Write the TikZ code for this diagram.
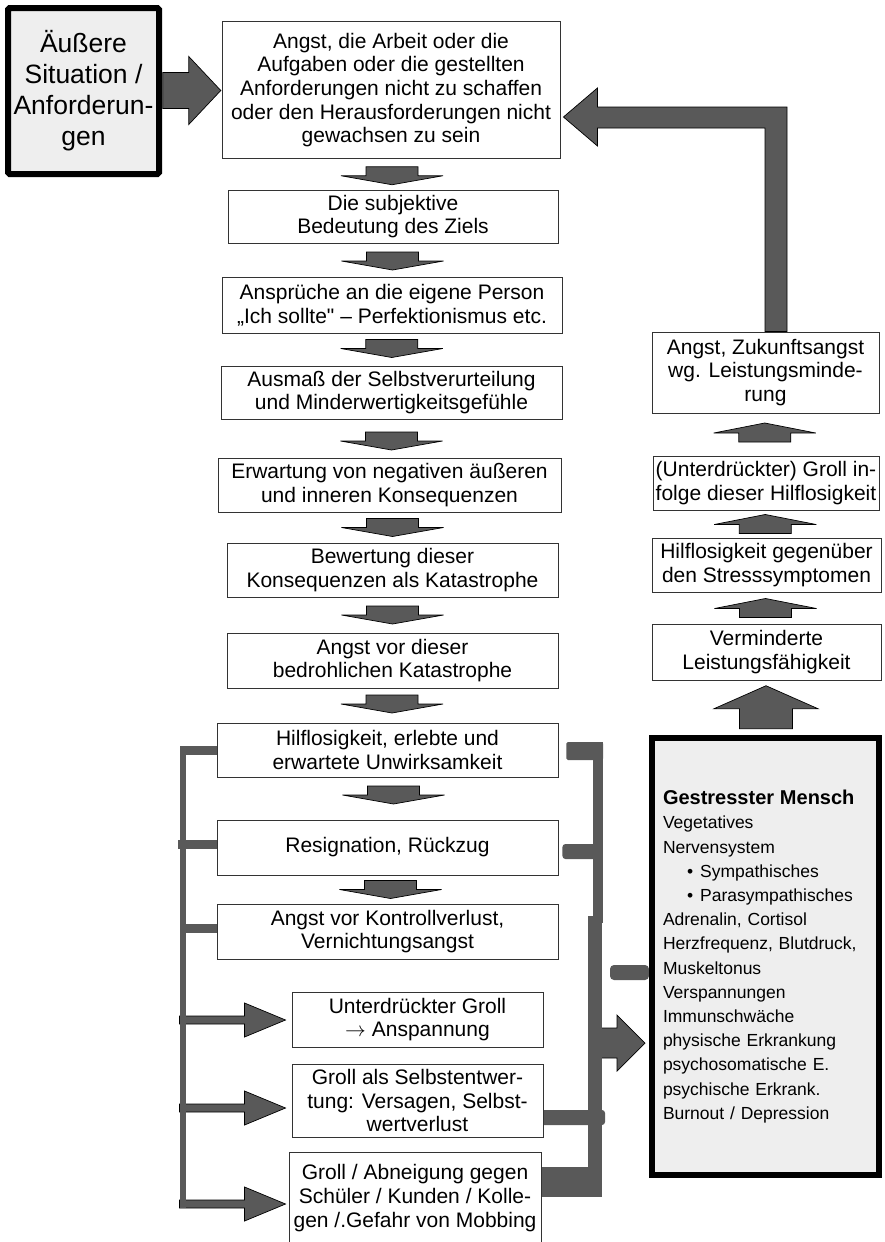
\documentclass[tikz,border=0pt]{standalone}
\usepackage{fontspec}
\setmainfont{Liberation Sans}[Ligatures=TeXOff]
\usetikzlibrary{calc,backgrounds}
\definecolor{ag}{HTML}{595959}
\definecolor{lg}{HTML}{EEEEEE}
\begin{document}
\begin{tikzpicture}[x=1pt,y=-1pt,
  box/.style={draw=black!80, line width=0.9pt, fill=white, align=center, inner sep=0pt,
    font=\fontsize{21}{23.7}\selectfont},
  bigbox/.style={draw=black, line width=6pt, fill=lg, inner sep=0pt, rounded corners=1.5pt},
  blk/.style={fill=ag, draw=black, line width=0.7pt, line join=miter},
  downarr/.pic={\path[blk] (-26,-9) -- (26,-9) -- (26,0) -- (51,0) -- (0,9) -- (-51,0) -- (-26,0) -- cycle;},
  uparr/.pic={\path[blk] (-26,9.5) -- (26,9.5) -- (26,0.5) -- (51,0.5) -- (0,-9.5) -- (-51,0.5) -- (-26,0.5) -- cycle;},
  bigup/.pic={\path[blk] (-26.5,21) -- (26.5,21) -- (26.5,1) -- (52,1) -- (0,-22) -- (-52,1) -- (-26.5,1) -- cycle;},
  rightarr/.pic={\path[blk] (-29,-18) -- (-3,-18) -- (-3,-34) -- (29,0) -- (-3,34) -- (-3,18) -- (-29,18) -- cycle;},
  brarr/.pic={\path[blk] (-106,-4) -- (-41,-4) -- (-41,-17) -- (0,0) -- (-41,17) -- (-41,4) -- (-106,4) -- cycle;},
  garr/.pic={\path[blk] (-48,-15) -- (-28,-15) -- (-28,-28) -- (0,0) -- (-28,28) -- (-28,15) -- (-48,15) -- cycle;}
]
\useasboundingbox (0,0) rectangle (885,1242);

% ---------- nodes ----------
\node[bigbox, minimum width=151pt, minimum height=166pt, align=center,
  font=\fontsize{26.5}{31}\selectfont] (L) at (83.5,91) {Äußere\\Situation /\\Anforderun-\\gen};

\node[box, minimum width=338pt, minimum height=137pt] (top) at (391,90)
  {Angst, die Arbeit oder die\\Aufgaben oder die gestellten\\Anforderungen nicht zu schaffen\\oder den Herausforderungen nicht\\gewachsen zu sein};
\node[box, minimum width=330pt, minimum height=53pt] (b2) at (393,216.5) {Die subjektive\\Bedeutung des Ziels};
\node[box, minimum width=340pt, minimum height=56pt] (b3) at (392,305) {Ansprüche an die eigene Person\\„Ich sollte" – Perfektionismus etc.};
\node[box, minimum width=341pt, minimum height=53pt] (b4) at (391.5,392.5) {Ausmaß der Selbstverurteilung\\und Minderwertigkeitsgefühle};
\node[box, minimum width=343pt, minimum height=54pt] (b5) at (389.5,485) {Erwartung von negativen äußeren\\und inneren Konsequenzen};
\node[box, minimum width=331pt, minimum height=54pt] (b6) at (392.5,570) {Bewertung dieser\\Konsequenzen als Katastrophe};
\node[box, minimum width=331pt, minimum height=55pt] (b7) at (392.5,660.5) {Angst vor dieser\\bedrohlichen Katastrophe};
\node[box, minimum width=341pt, minimum height=54pt] (b8) at (387.5,750) {Hilflosigkeit, erlebte und\\erwartete Unwirksamkeit};
\node[box, minimum width=341pt, minimum height=55pt] (b9) at (387.5,847.5) {Resignation, Rückzug};
\node[box, minimum width=341pt, minimum height=55pt] (b10) at (387.5,931.5) {Angst vor Kontrollverlust,\\Vernichtungsangst};
\node[box, minimum width=251pt, minimum height=55pt] (b11) at (417.5,1019.5) {Unterdrückter Groll\\$\rightarrow$ Anspannung};
\node[box, minimum width=251pt, minimum height=73pt] (b12) at (417.5,1100.5) {Groll als Selbstentwer-\\tung: Versagen, Selbst-\\wertverlust};
\node[box, minimum width=252pt, minimum height=92pt] (b13) at (415,1198) {Groll / Abneigung gegen\\Schüler / Kunden / Kolle-\\gen /.Gefahr von Mobbing};

\node[box, minimum width=227pt, minimum height=81pt] (R1) at (765.5,372.5) {Angst, Zukunftsangst\\wg. Leistungsminde-\\rung};
\node[box, minimum width=226pt, minimum height=54pt] (R2) at (766,483) {(Unterdrückter) Groll in-\\folge dieser Hilflosigkeit};
\node[box, minimum width=229pt, minimum height=54pt] (R3) at (766.5,565) {Hilflosigkeit gegenüber\\den Stresssymptomen};
\node[box, minimum width=229pt, minimum height=56pt] (R4) at (766.5,652) {Verminderte\\Leistungsfähigkeit};

\node[bigbox, rounded corners=0pt, minimum width=227pt, minimum height=437pt, text width=205pt, align=left,
  inner xsep=11pt, font=\fontsize{17.5}{24.2}\selectfont] (G) at (765.5,956.5)
  {{\fontsize{20}{24.2}\selectfont\bfseries Gestresster Mensch}\\
   Vegetatives\\
   Nervensystem\\
   \hspace*{24pt}\textbullet\hspace*{7pt}Sympathisches\\
   \hspace*{24pt}\textbullet\hspace*{7pt}Parasympathisches\\
   Adrenalin, Cortisol\\
   Herzfrequenz, Blutdruck,\\
   Muskeltonus\\
   Verspannungen\\
   Immunschwäche\\
   physische Erkrankung\\
   psychosomatische E.\\
   psychische Erkrank.\\
   Burnout / Depression};

% ---------- connectors (behind the boxes) ----------
\begin{pgfonlayer}{background}
\fill[white] (0,0) rectangle (885,1242);

% main chain
\pic at ($(L.east)!.5!(top.west)$) {rightarr};
\pic at ($(top.south)!.5!(b2.north)+(0,1.5)$) {downarr};
\pic at ($(b2.south)!.5!(b3.north)+(0,1)$) {downarr};
\pic at ($(b3.south)!.5!(b4.north)+(0,-1)$) {downarr};
\pic at ($(b4.south)!.5!(b5.north)+(1,2.5)$) {downarr};
\pic at ($(b5.south)!.5!(b6.north)+(1.5,0)$) {downarr};
\pic at ($(b6.south)!.5!(b7.north)$) {downarr};
\pic at ($(b7.south)!.5!(b8.north)+(2,-1.5)$) {downarr};
\pic at ($(b8.south)!.5!(b9.north)+(6,-3.5)$) {downarr};
\pic at ($(b9.south)!.5!(b10.north)+(3,0)$) {downarr};

% right column
\pic at ($(R1.south)!.5!(R2.north)+(-1,-2)$) {uparr};
\pic at ($(R2.south)!.5!(R3.north)+(-1,0)$) {uparr};
\pic at ($(R3.south)!.5!(R4.north)+(-1,0)$) {uparr};
\pic at ($(R4.south)!.5!(G.north)$) {bigup};

% feedback arrow
\path[blk] ($(R1.north)+(-0.5,0)$) |- ($(top.east)+(37,38)$) -- ++(0,18)
  -- ($(top.east)+(3,27)$) -- ++(34,-29) -- ++(0,19) -| ($(R1.north)+(21.5,0)$) -- cycle;

% left bracket
\pic at ($(b11.west)+(-6,0.5)$) {brarr};
\pic at ($(b12.west)+(-6,7.5)$) {brarr};
\pic at ($(b13.west)+(-3,6)$) {brarr};
\fill[ag] (180,745.5) rectangle (186,1208);
\fill[ag] ($(b8.west)+(-37,-4.5)$) rectangle ($(b8.west)+(0,4.5)$);
\fill[ag] ($(b9.west)+(-39,-7.5)$) rectangle ($(b9.west)+(0,1.5)$);
\fill[ag] ($(b10.west)+(-37,-7.5)$) rectangle ($(b10.west)+(5,1.5)$);

% right bracket
\pic at ($(G.west)+(-4,86.5)$) {garr};
\fill[ag] (593,742) rectangle (603,923);
\fill[ag, rounded corners=1.5pt] ($(b8.east)+(8,-8)$) rectangle (603,760);
\fill[ag, rounded corners=3pt] ($(b9.east)+(4,-3.5)$) rectangle (596,859);
\fill[ag] (588,916) rectangle (602,1197);
\fill[ag, rounded corners=3pt] ($(b12.east)+(-4,9.5)$) rectangle (605,1125);
\fill[ag] ($(b13.east)+(0,-31)$) rectangle (590,1197);
\fill[ag, rounded corners=4pt] ($(G.west)+(-39,8.5)$) rectangle ($(G.west)+(0,23.5)$);
\end{pgfonlayer}
\end{tikzpicture}
\end{document}
